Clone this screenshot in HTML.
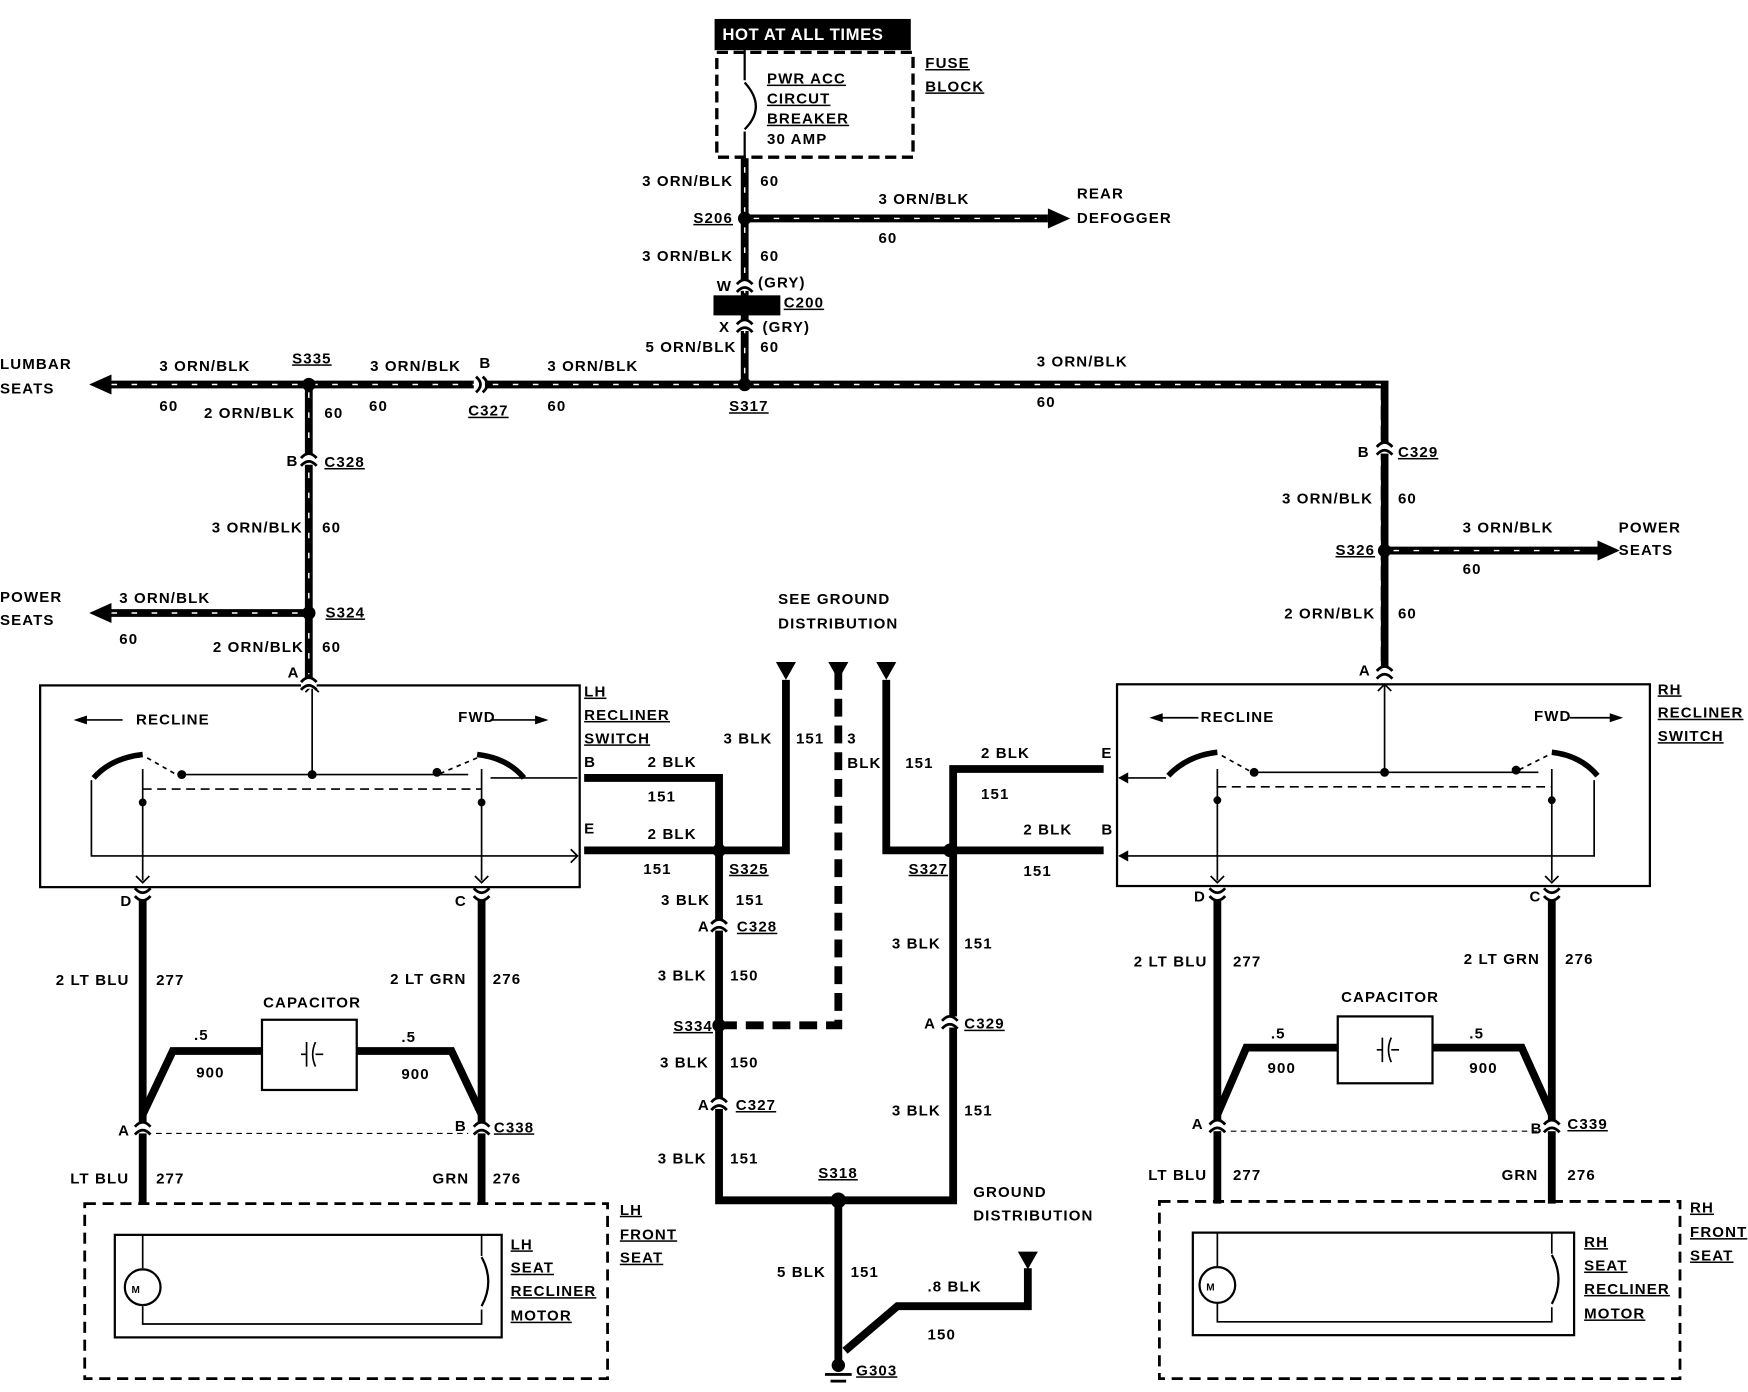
<!DOCTYPE html>
<html><head><meta charset="utf-8"><style>
html,body{margin:0;padding:0;background:#fff}
svg{display:block}
text{font-family:"Liberation Sans",sans-serif;font-weight:bold;font-size:13.5px;fill:#000;letter-spacing:1px}
.u{text-decoration:underline}
</style></head><body>
<svg width="1748" height="1392" viewBox="0 0 1568 1249" preserveAspectRatio="none" xmlns="http://www.w3.org/2000/svg">
<defs>
<g id="cv"><rect x="-7" y="-5" width="14" height="10" fill="#fff"/><path d="M-7,-1 Q0,-9 7,-1 M-7,6 Q0,-2 7,6" stroke="#000" stroke-width="2.5" fill="none"/></g>
<g id="ch"><rect x="-5" y="-7" width="10" height="14" fill="#fff"/><path d="M-3,-7 Q5,0 -3,7 M3,-7 Q11,0 3,7" stroke="#000" stroke-width="2.5" fill="none"/></g>
</defs>
<g fill="none" stroke="#000">
<g stroke-width="7">
<path d="M668,142V345"/><path d="M668,196H940"/>
<path d="M95,345H1242V605"/><path d="M277,345V613"/><path d="M95,550H277"/><path d="M1242,494H1433"/>
</g>
<g stroke="#fff" stroke-width="1.3" stroke-dasharray="5 13">
<path d="M668,150V338"/><path d="M676,196H930"/>
<path d="M100,345H1238V600"/><path d="M277,352V605"/><path d="M100,550H270"/><path d="M1250,494H1425"/>
</g>
<g stroke-width="7">
<path d="M524,698H645V1077H855V690H990"/><path d="M524,763H705V610"/>
<path d="M795,610V763H990"/><path d="M752,1077V1222"/>
<path d="M758,1212L805,1172H922V1138"/>
<path d="M128,800V1080"/><path d="M432,800V1080"/>
<path d="M128,1000L155,943H235M320,943H405L432,1000"/>
<path d="M1092,800V1080"/><path d="M1392,800V1080"/>
<path d="M1092,1000L1118,940H1200M1285,940H1365L1392,1000"/>
</g>
<path d="M645,920H752V600" stroke-width="7" stroke-dasharray="16 8"/>
<rect x="643" y="47" width="176" height="94" stroke-width="3" stroke-dasharray="10 5"/>
<path d="M668,45V72M668,118V142" stroke-width="2"/><path d="M668,74Q688,96 668,116" stroke-width="2"/>
<rect x="36" y="615" width="484" height="181" stroke-width="2"/>
<rect x="1002" y="614" width="478" height="181" stroke-width="2"/>
<g stroke-width="1.5">
<path d="M280,615V695M163,695H420M128,690V790M432,690V790M82,700V768H518M440,698H518"/>
<path d="M128,708H432" stroke-dasharray="8 5"/>
<path d="M75,646H110M440,646H485M122,786L128,792L134,786M426,786L432,792L438,786M274,621L280,615L286,621M512,762L518,768L512,774"/>
<path d="M1242,614V693M1125,693H1380M1092,690V790M1392,690V790M1430,700V768H1004M1046,698H1004"/>
<path d="M1092,706H1392" stroke-dasharray="8 5"/>
<path d="M1040,644H1075M1408,644H1450M1086,786L1092,792L1098,786M1386,786L1392,792L1398,786M1236,620L1242,614L1248,620"/>
</g>
<g stroke-width="5"><path d="M84,698Q100,680 128,677"/><path d="M428,677Q455,680 470,698"/>
<path d="M1048,696Q1065,678 1092,675"/><path d="M1392,675Q1418,678 1433,696"/></g>
<g stroke-width="1.5" stroke-dasharray="4 4"><path d="M132,680L160,696M428,680L395,694M1096,678L1125,694M1388,678L1360,692"/></g>
<rect x="235" y="915" width="85" height="63" stroke-width="2"/><path d="M270,946H275M275,935V957M283,935Q278,946 283,957M283,946H290" stroke-width="1.5"/>
<rect x="1200" y="912" width="85" height="60" stroke-width="2"/><path d="M1235,942H1240M1240,931V953M1248,931Q1243,942 1248,953M1248,942H1255" stroke-width="1.5"/>
<path d="M140,1017H420M1104,1015H1380" stroke-width="1" stroke-dasharray="5 4"/>
<rect x="76" y="1080" width="469" height="157" stroke-width="2.5" stroke-dasharray="10 6"/>
<rect x="103" y="1108" width="347" height="92" stroke-width="2"/>
<path d="M128,1108V1138M128,1172V1188H432V1175M432,1108V1127" stroke-width="1.5"/>
<path d="M432,1128Q444,1150 432,1172" stroke-width="2"/>
<circle cx="128" cy="1155" r="16" stroke-width="2"/>
<rect x="1040" y="1078" width="467" height="159" stroke-width="2.5" stroke-dasharray="10 6"/>
<rect x="1070" y="1106" width="342" height="92" stroke-width="2"/>
<path d="M1092,1106V1136M1092,1170V1186H1392V1173M1392,1106V1125" stroke-width="1.5"/>
<path d="M1392,1126Q1404,1148 1392,1170" stroke-width="2"/>
<circle cx="1092" cy="1153" r="16" stroke-width="2"/>
</g>
<rect x="641" y="17" width="176" height="28" fill="#000"/>
<rect x="640" y="265" width="60" height="18" fill="#000"/>
<g fill="#000">
<path d="M940,187L960,196L940,205Z"/><path d="M1433,485L1453,494L1433,503Z"/>
<path d="M100,336L80,345L100,354Z"/><path d="M100,541L80,550L100,559Z"/>
<path d="M696,594H714L705,610Z"/><path d="M743,594H761L752,610Z"/><path d="M786,594H804L795,610Z"/><path d="M913,1123H931L922,1139Z"/>
<path d="M66,646L78,642V650Z"/><path d="M492,646L480,642V650Z"/><path d="M1031,644L1043,640V648Z"/><path d="M1456,644L1444,640V648Z"/>
<path d="M1003,698L1012,693V703Z"/><path d="M1003,768L1012,763V773Z"/>
<circle cx="668" cy="196" r="6"/><circle cx="668" cy="345" r="6"/><circle cx="277" cy="345" r="6"/><circle cx="277" cy="550" r="6"/><circle cx="1242" cy="494" r="6"/>
<circle cx="645" cy="763" r="6"/><circle cx="852" cy="763" r="6"/><circle cx="645" cy="920" r="6"/><circle cx="752" cy="1077" r="7"/>
<circle cx="752" cy="1225" r="6"/><rect x="740" y="1232" width="24" height="2.5"/><rect x="745" y="1238" width="14" height="2.5"/>
<circle cx="163" cy="695" r="4"/><circle cx="280" cy="695" r="4"/><circle cx="392" cy="693" r="4"/><circle cx="128" cy="720" r="3.5"/><circle cx="432" cy="720" r="3.5"/>
<circle cx="1125" cy="693" r="4"/><circle cx="1242" cy="693" r="4"/><circle cx="1360" cy="691" r="4"/><circle cx="1092" cy="718" r="3.5"/><circle cx="1392" cy="718" r="3.5"/>
<text x="118" y="1160" style="font-size:9px">M</text><text x="1082" y="1158" style="font-size:9px">M</text>
</g>
<use href="#cv" x="668" y="256"/><use href="#cv" x="668" y="292"/>
<use href="#cv" x="277" y="412"/><use href="#cv" x="1242" y="402"/><use href="#cv" x="1242" y="603"/><use href="#cv" x="277" y="613"/>
<use href="#ch" x="430" y="345"/>
<use href="#cv" x="645" y="830"/><use href="#cv" x="645" y="990"/><use href="#cv" x="852" y="917"/>
<use href="#cv" x="128" y="803" transform="rotate(180 128 803)"/><use href="#cv" x="432" y="803" transform="rotate(180 432 803)"/>
<use href="#cv" x="1092" y="803" transform="rotate(180 1092 803)"/><use href="#cv" x="1392" y="803" transform="rotate(180 1392 803)"/>
<use href="#cv" x="128" y="1012"/><use href="#cv" x="432" y="1012"/><use href="#cv" x="1092" y="1010"/><use href="#cv" x="1392" y="1010"/>
<text x="648" y="36" style="fill:#fff;font-size:15px;letter-spacing:0.5px">HOT AT ALL TIMES</text>
<g style="font-size:15px;letter-spacing:0">
<text x="688" y="75" class="u">PWR ACC</text><text x="688" y="93" class="u">CIRCUT</text><text x="688" y="111" class="u">BREAKER</text><text x="688" y="129">30 AMP</text></g>
<text x="830" y="61" class="u">FUSE</text><text x="830" y="82" class="u">BLOCK</text>
<text x="576" y="167">3 ORN/BLK</text><text x="682" y="167">60</text>
<text x="622" y="200" class="u">S206</text>
<text x="788" y="183">3 ORN/BLK</text><text x="788" y="218">60</text>
<text x="966" y="178">REAR</text><text x="966" y="200">DEFOGGER</text>
<text x="576" y="234">3 ORN/BLK</text><text x="682" y="234">60</text>
<text x="643" y="261">W</text><text x="680" y="258">(GRY)</text><text x="703" y="276" class="u">C200</text>
<text x="645" y="298">X</text><text x="684" y="298">(GRY)</text>
<text x="579" y="316">5 ORN/BLK</text><text x="682" y="316">60</text>
<text x="0" y="331">LUMBAR</text><text x="0" y="353">SEATS</text>
<text x="143" y="333">3 ORN/BLK</text><text x="143" y="369">60</text>
<text x="262" y="326" class="u">S335</text><text x="183" y="375">2 ORN/BLK</text><text x="291" y="375">60</text>
<text x="332" y="333">3 ORN/BLK</text><text x="331" y="369">60</text>
<text x="430" y="330">B</text><text x="420" y="373" class="u">C327</text>
<text x="491" y="333">3 ORN/BLK</text><text x="491" y="369">60</text>
<text x="654" y="369" class="u">S317</text>
<text x="930" y="329">3 ORN/BLK</text><text x="930" y="365">60</text>
<text x="257" y="418">B</text><text x="291" y="419" class="u">C328</text>
<text x="190" y="478">3 ORN/BLK</text><text x="289" y="478">60</text>
<text x="0" y="540">POWER</text><text x="0" y="561">SEATS</text>
<text x="107" y="541">3 ORN/BLK</text><text x="107" y="578">60</text>
<text x="292" y="554" class="u">S324</text><text x="191" y="585">2 ORN/BLK</text><text x="289" y="585">60</text>
<text x="258" y="608">A</text>
<text x="1218" y="410">B</text><text x="1254" y="410" class="u">C329</text>
<text x="1150" y="452">3 ORN/BLK</text><text x="1254" y="452">60</text>
<text x="1198" y="498" class="u">S326</text>
<text x="1312" y="478">3 ORN/BLK</text><text x="1312" y="515">60</text>
<text x="1452" y="478">POWER</text><text x="1452" y="498">SEATS</text>
<text x="1152" y="555">2 ORN/BLK</text><text x="1254" y="555">60</text>
<text x="1219" y="606">A</text>
<text x="698" y="542">SEE GROUND</text><text x="698" y="564">DISTRIBUTION</text>
<g style="font-size:12px"><text x="122" y="650">RECLINE</text><text x="411" y="648">FWD</text>
<text x="1077" y="648">RECLINE</text><text x="1376" y="647">FWD</text></g>
<text x="524" y="625" class="u">LH</text><text x="524" y="646" class="u">RECLINER</text><text x="524" y="667" class="u">SWITCH</text>
<text x="1487" y="623" class="u">RH</text><text x="1487" y="644" class="u">RECLINER</text><text x="1487" y="665" class="u">SWITCH</text>
<text x="524" y="688">B</text><text x="524" y="748">E</text>
<text x="988" y="680">E</text><text x="988" y="749">B</text>
<text x="581" y="688">2 BLK</text><text x="581" y="719">151</text>
<text x="581" y="753">2 BLK</text><text x="577" y="784">151</text>
<text x="649" y="667">3 BLK</text><text x="714" y="667">151</text>
<text x="760" y="667">3</text><text x="760" y="689">BLK</text><text x="812" y="689">151</text>
<text x="880" y="680">2 BLK</text><text x="880" y="717">151</text>
<text x="918" y="749">2 BLK</text><text x="918" y="786">151</text>
<text x="654" y="784" class="u">S325</text><text x="815" y="784" class="u">S327</text>
<text x="593" y="812">3 BLK</text><text x="660" y="812">151</text>
<text x="626" y="836">A</text><text x="661" y="836" class="u">C328</text>
<text x="590" y="880">3 BLK</text><text x="655" y="880">150</text>
<text x="604" y="925" class="u">S334</text>
<text x="592" y="958">3 BLK</text><text x="655" y="958">150</text>
<text x="626" y="996">A</text><text x="660" y="996" class="u">C327</text>
<text x="590" y="1044">3 BLK</text><text x="655" y="1044">151</text>
<text x="800" y="851">3 BLK</text><text x="865" y="851">151</text>
<text x="829" y="923">A</text><text x="865" y="923" class="u">C329</text>
<text x="800" y="1001">3 BLK</text><text x="865" y="1001">151</text>
<text x="734" y="1057" class="u">S318</text>
<text x="873" y="1074">GROUND</text><text x="873" y="1095">DISTRIBUTION</text>
<text x="697" y="1146">5 BLK</text><text x="763" y="1146">151</text>
<text x="832" y="1159">.8 BLK</text><text x="832" y="1202">150</text>
<text x="768" y="1234" class="u">G303</text>
<text x="108" y="813">D</text><text x="408" y="813">C</text>
<text x="50" y="884">2 LT BLU</text><text x="140" y="884">277</text>
<text x="350" y="883">2 LT GRN</text><text x="442" y="883">276</text>
<text x="236" y="904">CAPACITOR</text>
<text x="174" y="933">.5</text><text x="176" y="967">900</text><text x="360" y="935">.5</text><text x="360" y="968">900</text>
<text x="106" y="1019">A</text><text x="408" y="1015">B</text><text x="443" y="1016" class="u">C338</text>
<text x="63" y="1062">LT BLU</text><text x="140" y="1062">277</text><text x="388" y="1062">GRN</text><text x="442" y="1062">276</text>
<text x="458" y="1121" class="u">LH</text><text x="458" y="1142" class="u">SEAT</text><text x="458" y="1163" class="u">RECLINER</text><text x="458" y="1185" class="u">MOTOR</text>
<text x="556" y="1090" class="u">LH</text><text x="556" y="1112" class="u">FRONT</text><text x="556" y="1133" class="u">SEAT</text>
<text x="1071" y="809">D</text><text x="1372" y="809">C</text>
<text x="1017" y="867">2 LT BLU</text><text x="1106" y="867">277</text>
<text x="1313" y="865">2 LT GRN</text><text x="1404" y="865">276</text>
<text x="1203" y="899">CAPACITOR</text>
<text x="1140" y="932">.5</text><text x="1137" y="963">900</text><text x="1318" y="932">.5</text><text x="1318" y="963">900</text>
<text x="1069" y="1013">A</text><text x="1373" y="1017">B</text><text x="1406" y="1013" class="u">C339</text>
<text x="1030" y="1059">LT BLU</text><text x="1106" y="1059">277</text><text x="1347" y="1059">GRN</text><text x="1406" y="1059">276</text>
<text x="1421" y="1119" class="u">RH</text><text x="1421" y="1140" class="u">SEAT</text><text x="1421" y="1161" class="u">RECLINER</text><text x="1421" y="1183" class="u">MOTOR</text>
<text x="1516" y="1088" class="u">RH</text><text x="1516" y="1110" class="u">FRONT</text><text x="1516" y="1131" class="u">SEAT</text>
</svg>
</body></html>
